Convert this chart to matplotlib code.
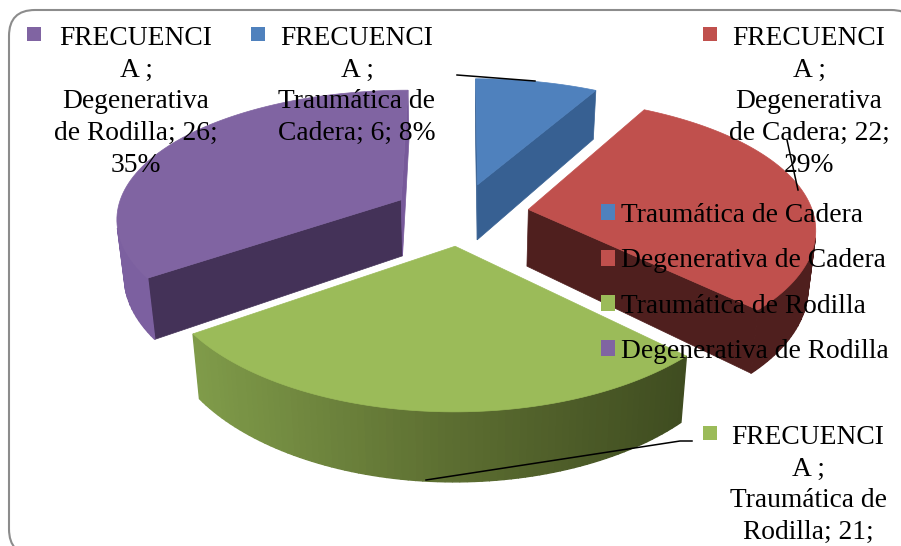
import numpy as np
import matplotlib
matplotlib.use('Agg')
import matplotlib.pyplot as plt
from matplotlib.colors import LinearSegmentedColormap
from matplotlib.patches import FancyBboxPatch, Patch, Polygon

# Chart data
categories = ['Traumática de Cadera', 'Degenerativa de Cadera',
              'Traumática de Rodilla', 'Degenerativa de Rodilla']
wrapped_names = ['Traumática de\nCadera', 'Degenerativa\nde Cadera',
                 'Traumática de\nRodilla', 'Degenerativa\nde Rodilla']
values = [6, 22, 21, 26]
series_name = 'FRECUENCI\nA ;'

# Colours: top face, first cut face, second cut face, outer rim stops
top_colors = ['#4F81BD', '#C0504D', '#9BBB59', '#8064A2']
cut_colors = ['#376092', '#4F1F1E', '#3F4C20', '#443258']
end_colors = ['#376092', '#4F1F1E', '#3F4C20', '#77599A']
rim_colors = [['#376092', '#376092'],
              ['#4F1F1E', '#5A2423'],
              ['#3F4C20', '#5E7032', '#809C4A'],
              ['#6A4F8C', '#7C60A0']]

# Projection of the pie plane onto the figure (pixels)
cx, cy = 461, 214
rx, ry = 285, 130
persp_x, persp_y = 0.13, 0.15
depth = 57
depth_persp = 0.022
explode = 0.24


def project(x, y, bottom=False):
    z = 1 if bottom else 0
    x, y = np.asarray(x), np.asarray(y)
    wy = 1 + persp_y*y
    return cx + rx*x/(1 + persp_x*y + depth_persp*z), cy - ry*y/wy + depth*z/wy


def facing(a, b):
    # a and b are the top and bottom of one wall, returns wall's signed area
    pts = np.array([a[0], a[1], b[1], b[0]])
    x, y = pts[:, 0], pts[:, 1]
    return 0.5*np.sum(x*np.roll(y, -1) - np.roll(x, -1)*y)


def draw_wedge(ax, start, end, top, cuts, rim):
    mid = (start + end)/2
    ox, oy = explode*np.sin(mid), explode*np.cos(mid)
    theta = np.linspace(start, end, 80)
    px, py = ox + np.sin(theta), oy + np.cos(theta)
    ctop = np.c_[project(ox, oy)]
    cbot = np.c_[project(ox, oy, True)]
    etop = np.c_[project(px, py)]
    ebot = np.c_[project(px, py, True)]

    # cut faces, only those turned to the viewer
    for i, sign, col in [(0, 1, cuts[0]), (-1, -1, cuts[1])]:
        a = np.vstack([ctop, etop[i]])
        b = np.vstack([cbot, ebot[i]])
        if sign*facing(a, b) < 0:
            ax.add_patch(Polygon(np.vstack([a, b[::-1]]), fc=col, ec=col, lw=0.5))

    # outer rim in little strips so it can shade along the arc
    cmap = LinearSegmentedColormap.from_list('rim', rim)
    for i in range(len(theta) - 1):
        a = etop[i:i + 2]
        b = ebot[i:i + 2]
        if facing(a, b) < 0:
            t = (a[0, 0] - 190)/500
            col = cmap(1 - np.clip(t, 0, 1))
            ax.add_patch(Polygon(np.vstack([a, b[::-1]]), fc=col, ec=col, lw=1))

    ax.add_patch(Polygon(np.vstack([ctop, etop]), fc=top, ec=top, lw=0.5))


fig = plt.figure(figsize=(9.01, 5.46), dpi=100)
ax = fig.add_axes([0, 0, 1, 1])
ax.set_xlim(0, 901)
ax.set_ylim(546, 0)
ax.axis('off')

plt.rcParams['font.family'] = ['Liberation Serif', 'DejaVu Serif']

# Frame of the chart area, runs off the right and bottom of the picture
ax.add_patch(FancyBboxPatch((9, 10), 908, 545, boxstyle='round,pad=0,rounding_size=26',
                            fc='white', ec='#8C8C8C', lw=1.5))

# Slices, clockwise from twelve o'clock
shares = np.array(values)/np.sum(values)
edges = np.r_[0, np.cumsum(shares)]*2*np.pi
for i in [0, 3, 1, 2]:
    draw_wedge(ax, edges[i], edges[i + 1], top_colors[i],
               (cut_colors[i], end_colors[i]), rim_colors[i])

# Leader lines
ax.plot([457, 535], [75, 81], color='black', lw=1.1)
ax.plot([787, 798], [140, 190], color='black', lw=1.1)
ax.plot([426, 680, 692], [480, 441, 441], color='black', lw=1.1)

# Data labels: text centre, top of text, swatch left and top
label_pos = [(357, 26, 251, 27), (809, 26, 703, 27), (808, 425, 703, 426), (136, 26, 27, 27)]
font_size = 19.8
for i, (tx, ty, sx, sy) in enumerate(label_pos):
    pct = round(shares[i]*100)
    tail = f'; {values[i]}; {pct}%' if i == 0 else f'; {values[i]};\n{pct}%'
    if i == 2:
        # the last line of this label falls off the picture
        tail = f'; {values[i]};'
    ax.text(tx, ty, f'{series_name}\n{wrapped_names[i]}{tail}', ha='center', va='top',
            fontsize=font_size, linespacing=1.35, color='black')
    ax.add_patch(Polygon([(sx, sy), (sx + 14, sy), (sx + 14, sy + 14), (sx, sy + 14)],
                         fc=top_colors[i], ec='none'))

# Legend
handles = [Patch(fc=c, ec='none') for c in top_colors]
ax.legend(handles, categories, loc='upper left', bbox_to_anchor=(601, 203),
          bbox_transform=ax.transData, frameon=False, fontsize=font_size,
          handlelength=0.51, handleheight=0.51, handletextpad=0.2,
          labelspacing=0.74, borderpad=0, borderaxespad=0)

fig.savefig('out.png', dpi=100)
